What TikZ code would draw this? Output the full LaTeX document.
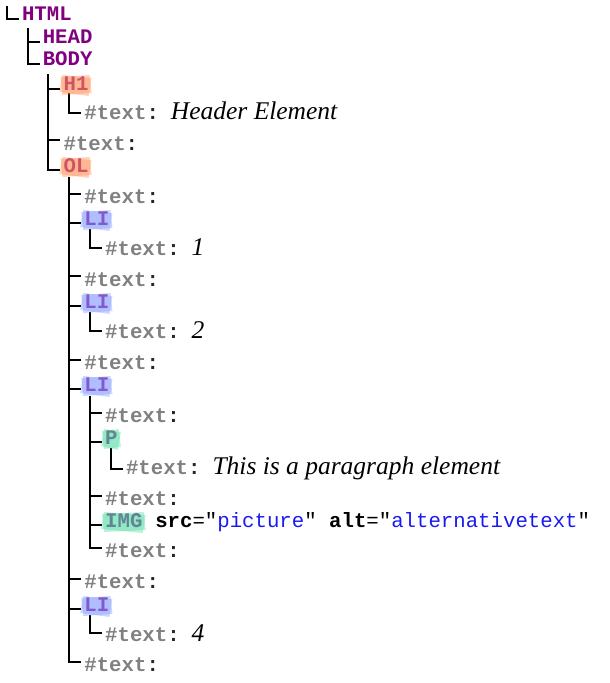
\documentclass[tikz,border=0pt]{standalone}
\usepackage{fontspec}
\newfontfamily\codefont{Liberation Mono}
\newfontfamily\valfont{Liberation Serif}
\usetikzlibrary{calc}

\definecolor{tagpurple}{HTML}{800080}
\definecolor{textgray}{HTML}{808080}
\definecolor{attrblue}{HTML}{1A1AF0}
\definecolor{hlorange}{HTML}{FF8A50}
\definecolor{hlblue}{HTML}{7F95FF}
\definecolor{hlgreen}{HTML}{4FD9A0}

% "#text:" label, optionally followed by an italic value
\newcommand\tlabel{\textcolor{textgray}{\#text}\textcolor{black!85}{:}}
\newcommand\tval[1]{\hspace{12pt}{\valfont\mdseries\itshape\fontsize{25.5}{27}\selectfont #1}}
% attribute pair  name="value"
\newcommand\attr[2]{\ \textcolor{black}{#1}{\mdseries =}{\mdseries "\textcolor{attrblue}{#2}"}}
% rough marker stroke over a tag name
\newcommand\hlmark[2]{%
  \fill[#2, fill opacity=.38] ($(#1.base west)+(-3,-13)$) -- ($(#1.base east)+(1,-15)$)
       -- ($(#1.base east)+(3,3)$) -- ($(#1.base west)+(-1,5)$) -- cycle;
  \fill[#2, fill opacity=.38] ($(#1.base west)+(-1,-15)$) -- ($(#1.base east)+(3,-12)$)
       -- ($(#1.base east)+(0,6)$) -- ($(#1.base west)+(-4,2)$) -- cycle;}
% connector from a spine point to a child row
\newcommand\branch[3]{\draw[conn] (#1) |- ($(#2.base west)+(-3,#3)$);}

\begin{document}
\begin{tikzpicture}[x=1pt, y=-1pt,
  code/.style={anchor=base west, inner sep=0pt,
    font=\codefont\bfseries\fontsize{20.7}{22}\selectfont},
  tag/.style={code, text=tagpurple},
  txt/.style={code},
  conn/.style={draw=black, line width=2pt, line join=miter}]
\useasboundingbox (0,0) rectangle (610,683);

% rows of the tree
\node[tag] (html) at (21.8,20)  {HTML};
\node[tag] (head) at (42.6,43)  {HEAD};
\node[tag] (body) at (42.6,65)  {BODY};
\node[tag] (h1)   at (63.4,90)  {H1};
\node[txt] (h1t)  at (84.2,119) {\tlabel\tval{Header Element}};
\node[txt] (bt1)  at (63.4,150) {\tlabel};
\node[tag] (ol)   at (63.4,172) {OL};
\node[txt] (ot1)  at (84.2,203) {\tlabel};
\node[tag] (li1)  at (84.2,225) {LI};
\node[txt] (li1t) at (105,255)  {\tlabel\tval{1}};
\node[txt] (ot2)  at (84.2,286) {\tlabel};
\node[tag] (li2)  at (84.2,308) {LI};
\node[txt] (li2t) at (105,338)  {\tlabel\tval{2}};
\node[txt] (ot3)  at (84.2,369) {\tlabel};
\node[tag] (li3)  at (84.2,391) {LI};
\node[txt] (lt1)  at (105,422)  {\tlabel};
\node[tag] (p)    at (105,444)  {P};
\node[txt] (pt)   at (125.8,474) {\tlabel\tval{This is a paragraph element}};
\node[txt] (lt2)  at (105,505)  {\tlabel};
\node[tag] (img)  at (105,527)  {IMG};
\node[txt] (imga) at (img.base east) {\attr{src}{picture}\attr{alt}{alternativetext}};
\node[txt] (lt3)  at (105,557)  {\tlabel};
\node[txt] (ot4)  at (84.2,588) {\tlabel};
\node[tag] (li4)  at (84.2,611) {LI};
\node[txt] (li4t) at (105,641)  {\tlabel\tval{4}};
\node[txt] (ot5)  at (84.2,671) {\tlabel};

% spines: tops of the vertical lines
\coordinate (rootv) at ($(html.base west)+(-15,-14)$);
\coordinate (htmlv) at ($(head.base west)+(-15,-15)$);
\coordinate (bodyv) at ($(h1.base west)+(-15,-16)$);
\coordinate (h1v)   at ($(h1t.base west)+(-15,-26)$);
\coordinate (olv)   at ($(ot1.base west)+(-15,-26)$);
\coordinate (li1v)  at ($(li1t.base west)+(-15,-26)$);
\coordinate (li2v)  at ($(li2t.base west)+(-15,-26)$);
\coordinate (li3v)  at ($(lt1.base west)+(-15,-26)$);
\coordinate (pv)    at ($(pt.base west)+(-15,-26)$);
\coordinate (li4v)  at ($(li4t.base west)+(-15,-26)$);

% connectors
\branch{rootv}{html}{-1}
\branch{htmlv}{head}{-1}
\branch{htmlv}{body}{-1}
\branch{bodyv}{h1}{-1}
\branch{bodyv}{bt1}{-10}
\branch{bodyv}{ol}{-2}
\branch{h1v}{h1t}{-6}
\branch{olv}{ot1}{-9}
\branch{olv}{li1}{-2}
\branch{olv}{ot2}{-10}
\branch{olv}{li2}{-2}
\branch{olv}{ot3}{-9}
\branch{olv}{li3}{-2}
\branch{olv}{ot4}{-9}
\branch{olv}{li4}{-2}
\branch{olv}{ot5}{-9}
\branch{li1v}{li1t}{-7}
\branch{li2v}{li2t}{-7}
\branch{li3v}{lt1}{-9}
\branch{li3v}{p}{-2}
\branch{li3v}{lt2}{-9}
\branch{li3v}{img}{-2}
\branch{li3v}{lt3}{-9}
\branch{pv}{pt}{-5}
\branch{li4v}{li4t}{-8}

% marker highlights over element names
\hlmark{h1}{hlorange}
\hlmark{ol}{hlorange}
\hlmark{li1}{hlblue}
\hlmark{li2}{hlblue}
\hlmark{li3}{hlblue}
\hlmark{li4}{hlblue}
\hlmark{p}{hlgreen}
\hlmark{img}{hlgreen}
\end{tikzpicture}
\end{document}
